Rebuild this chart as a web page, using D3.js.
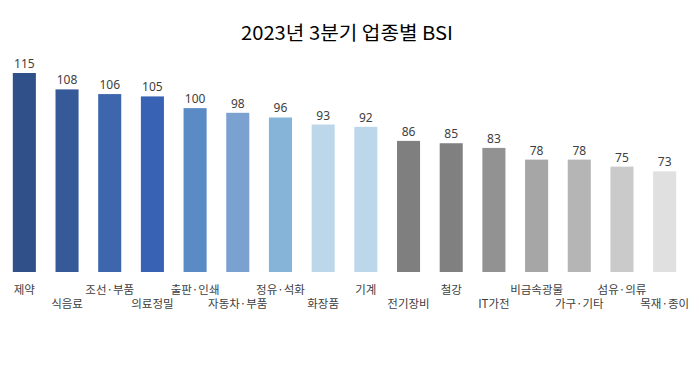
<!DOCTYPE html>
<html><head><meta charset="utf-8">
<script src="https://cdn.jsdelivr.net/npm/d3@7"></script>
<style>body{margin:0;background:#fff;}svg{display:block;}</style>
</head><body>
<svg id="c" width="699" height="369"></svg>
<script>
const categories = ["제약","식음료","조선·부품","의료정밀","출판·인쇄","자동차·부품","정유·석화","화장품","기계","전기장비","철강","IT가전","비금속광물","가구·기타","섬유·의류","목재·종이"];
const values = [115,108,106,105,100,98,96,93,92,86,85,83,78,78,75,73];
const barColors = ["#2f5089","#355a97","#3e66ad","#3862b3","#5b8bc4","#7aa1d0","#86b3d8","#bcd6ea","#bcd6ea","#7f7f7f","#808080","#929292","#a6a6a6","#b5b5b5","#cacaca","#e0e0e0"];
const title = "2023년 3분기 업종별 BSI";

const svg = d3.select("#c");
const x = d3.scaleBand().domain(categories).range([3, 686]).paddingInner(0.46).paddingOuter(0.23);
const y = d3.scaleLinear().domain([30, 120]).range([272, 61.3]);

svg.append("text").attr("x", 347).attr("y", 40).attr("text-anchor","middle")
  .attr("font-family","'Noto Sans CJK KR', sans-serif").attr("font-size", 19)
  .attr("textLength", 212).attr("lengthAdjust","spacingAndGlyphs")
  .attr("fill","#000").text(title);

svg.selectAll("rect.bar").data(values).join("rect").attr("class","bar")
  .attr("x", (d,i) => x(categories[i])).attr("width", x.bandwidth())
  .attr("y", d => y(d)).attr("height", d => y(30) - y(d))
  .attr("fill", (d,i) => barColors[i]);

svg.selectAll("text.val").data(values).join("text").attr("class","val")
  .attr("x", (d,i) => x(categories[i]) + x.bandwidth()/2)
  .attr("y", d => y(d) - 5).attr("text-anchor","middle")
  .attr("font-family","'Noto Sans', sans-serif").attr("font-size", 12)
  .attr("fill","#404040").text(d => d);

svg.selectAll("text.cat").data(categories).join("text").attr("class","cat")
  .attr("x", d => x(d) + x.bandwidth()/2)
  .attr("y", (d,i) => i % 2 === 0 ? 294 : 308).attr("text-anchor","middle")
  .attr("font-family","'Noto Sans CJK KR', sans-serif").attr("font-size", 11.5)
  .attr("fill","#404040").text(d => d);
</script>
</body></html>
